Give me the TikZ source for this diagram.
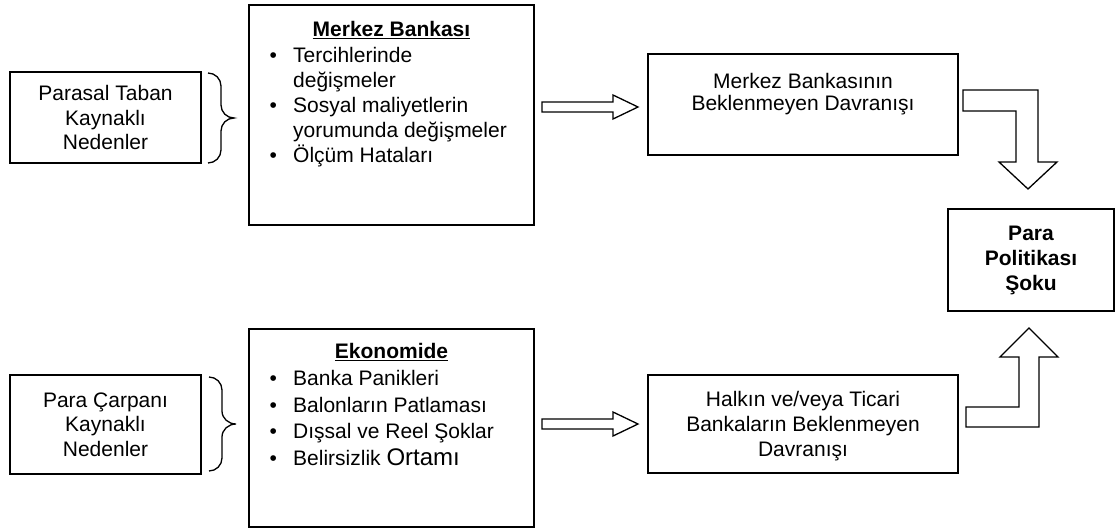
\documentclass[tikz,border=0pt]{standalone}
\usepackage{fontspec}
\setmainfont{Liberation Sans}
\usetikzlibrary{positioning}

\newcommand{\ulbf}[1]{\setbox0\hbox{\bfseries #1}\rlap{\rule[-2.6pt]{\wd0}{1.5pt}}\box0}

\begin{document}
\begin{tikzpicture}[x=1pt, y=-1pt, node distance=20pt,
  block/.style={draw, line width=1.6pt, inner sep=0pt, align=center, font=\fontsize{21}{24.5}\selectfont},
  txt/.style={inner sep=0pt, align=center, font=\fontsize{21}{24.5}\selectfont},
  hollow/.style={draw, line width=1.3pt, fill=white, line join=miter},
  curly/.style={draw, line width=1.3pt}]

  \useasboundingbox (0,0) rectangle (1116,530);

  % Upper row
  \node[block, minimum width=191pt, minimum height=91pt] (PT) at (105.5,117.5) {Parasal Taban\\Kaynaklı\\Nedenler};
  \node[block, minimum width=285pt, minimum height=220pt] (MB) at (391.5,115) {};
  \node[block, minimum width=310pt, minimum height=101pt] (MBD) at (803,104.5) {};

  % Lower row
  \node[block, minimum width=191pt, minimum height=99pt] (PC) at (105.5,424.5) {Para Çarpanı\\Kaynaklı\\Nedenler};
  \node[block, minimum width=285pt, minimum height=198pt] (EK) at (391.5,428) {};
  \node[block, minimum width=310pt, minimum height=98pt] (HT) at (803,424) {};

  % Result
  \node[block, minimum width=166pt, minimum height=102pt, font=\fontsize{21}{25}\selectfont\bfseries] (PPS) at (1031,260) {Para\\Politikası\\Şoku};

  % Texts in the boxes
  \node[txt, below=17pt of MB.north] (MBt) {\ulbf{Merkez Bankası}};
  \node[txt, align=left, anchor=north west, font=\fontsize{21}{25}\selectfont] (MBl) at (269.5,47.2)
    {\makebox[23.5pt][l]{•}Tercihlerinde\\\hspace*{23.5pt}değişmeler\\
     \makebox[23.5pt][l]{•}Sosyal maliyetlerin\\\hspace*{23.5pt}yorumunda değişmeler\\
     \makebox[23.5pt][l]{•}Ölçüm Hataları};
  \node[txt, below=15.2pt of EK.north] (EKt) {\ulbf{Ekonomide}};
  \node[txt, align=left, anchor=north west, font=\fontsize{21}{26.5}\selectfont] (EKl) at (269.5,370.2)
    {\makebox[23.5pt][l]{•}Banka Panikleri\\
     \makebox[23.5pt][l]{•}Balonların Patlaması\\
     \makebox[23.5pt][l]{•}Dışsal ve Reel Şoklar\\
     \makebox[23.5pt][l]{•}Belirsizlik {\fontsize{24}{26.5}\selectfont Ortamı}};
  \node[txt, below=20pt of MBD.north, font=\fontsize{21}{22}\selectfont] (MBDt) {Merkez Bankasının\\Beklenmeyen Davranışı};
  \node[txt, below=17.2pt of HT.north, font=\fontsize{21}{25}\selectfont] (HTt) {Halkın ve/veya Ticari\\Bankaların Beklenmeyen\\Davranışı};

  % Braces
  \draw[curly] (208,73) to[out=0,in=90] (221,86) -- (221,105) to[out=-90,in=180] (234,118)
    to[out=180,in=90] (221,131) -- (221,150) to[out=-90,in=0] (208,163);
  \draw[curly] (209,377) to[out=0,in=90] (222,390) -- (222,411) to[out=-90,in=180] (236,424)
    to[out=180,in=90] (222,437) -- (222,458) to[out=-90,in=0] (209,471);

  % Straight arrows
  \draw[hollow] (542,102) -- (613,102) -- (613,95) -- (638,107) -- (613,119) -- (613,112) -- (542,112) -- cycle;
  \draw[hollow] (542,419) -- (613,419) -- (613,412) -- (638,424) -- (613,436) -- (613,429) -- (542,429) -- cycle;

  % Bent arrows
  \draw[hollow] (963,90) -- (1038,90) -- (1038,162) -- (1057,162) -- (1028,189) -- (999,162)
    -- (1016,162) -- (1016,111) -- (963,111) -- cycle;
  \draw[hollow] (966,427) -- (1039,427) -- (1039,357) -- (1058,357) -- (1029,328) -- (1000,357)
    -- (1019,357) -- (1019,407) -- (966,407) -- cycle;

\end{tikzpicture}
\end{document}
